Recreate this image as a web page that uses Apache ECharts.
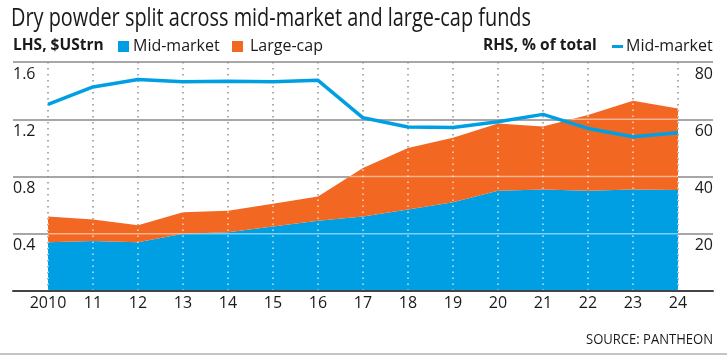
<!DOCTYPE html>
<html>
<head>
<meta charset="utf-8">
<script src="https://cdn.jsdelivr.net/npm/echarts@6/dist/echarts.min.js"></script>
<style>
html,body{margin:0;padding:0;background:#fff;}
#chart{width:727px;height:356px;}
</style>
</head>
<body>
<div id="chart"></div>
<script>
// ---- data ----
const years = ['2010','11','12','13','14','15','16','17','18','19','20','21','22','23','24'];
const midMarket = [0.34,0.35,0.34,0.40,0.41,0.45,0.49,0.52,0.57,0.62,0.70,0.71,0.70,0.71,0.705];
const largeCap  = [0.18,0.15,0.12,0.15,0.15,0.16,0.17,0.34,0.43,0.45,0.47,0.44,0.53,0.62,0.57];
const midShare  = [65.2,71.3,73.9,73.1,73.3,73.1,73.6,60.5,57.3,57.1,59.1,61.7,56.8,53.9,55.3];
const leftMax = 1.6, leftInterval = 0.4;
const rightMax = 80, rightInterval = 20;

const TITLE = 'Dry powder split across mid-market and large-cap funds';
const SOURCE = 'SOURCE: PANTHEON';

const BLUE = '#009fe3', ORANGE = '#f26722', TEXT = '#1a1a1a';
const FONT = "'Open Sans', 'Liberation Sans', sans-serif";

// horizontal condensing factor so that text occupies the reference width
const mctx = document.createElement('canvas').getContext('2d');
function fitScale(text, size, weight, target) {
  mctx.font = weight + ' ' + size + 'px ' + FONT;
  return target / mctx.measureText(text).width;
}
const titleSize = 26, sourceSize = 15;
const titleScale = fitScale(TITLE, titleSize, 'normal', 520);
const sourceScale = fitScale(SOURCE, sourceSize, 'normal', 127);

const chart = echarts.init(document.getElementById('chart'), null, {renderer:'canvas'});

const plotTop = 62, plotBottom = 65;

const option = {
  animation: false,
  backgroundColor: '#fff',
  graphic: [
    {type:'text', x:11, y:19, scaleX:titleScale, style:{text:TITLE, fontFamily:FONT, fontSize:titleSize, fill:TEXT, verticalAlign:'middle'}},
    {type:'text', x:13, y:46, style:{text:'LHS, $UStrn', fontFamily:FONT, fontSize:15.5, fontWeight:'bold', fill:TEXT, verticalAlign:'middle'}},
    {type:'rect', shape:{x:118, y:41, width:11, height:11}, style:{fill:BLUE}},
    {type:'text', x:133, y:46, style:{text:'Mid-market', fontFamily:FONT, fontSize:16, fill:TEXT, verticalAlign:'middle'}},
    {type:'rect', shape:{x:232, y:41, width:11, height:11}, style:{fill:ORANGE}},
    {type:'text', x:250, y:46, style:{text:'Large-cap', fontFamily:FONT, fontSize:16, fill:TEXT, verticalAlign:'middle'}},
    {type:'text', x:483, y:46, style:{text:'RHS, % of total', fontFamily:FONT, fontSize:15.5, fontWeight:'bold', fill:TEXT, verticalAlign:'middle'}},
    {type:'rect', shape:{x:612, y:45, width:11, height:3}, style:{fill:BLUE}},
    {type:'text', x:626, y:46, style:{text:'Mid-market', fontFamily:FONT, fontSize:16, fill:TEXT, verticalAlign:'middle'}},
    {type:'text', x:713, y:340, scaleX:sourceScale, style:{text:SOURCE, fontFamily:FONT, fontSize:sourceSize, fill:TEXT, align:'right', verticalAlign:'middle'}},
    {type:'rect', shape:{x:0, y:353, width:727, height:2}, style:{fill:'#c4c4c4'}}
  ],
  grid: [
    {left:48, right:49, top:plotTop, bottom:plotBottom},
    {left:13, right:14, top:plotTop, bottom:plotBottom}
  ],
  xAxis: [
    {
      type:'category', gridIndex:0, data:years, boundaryGap:false,
      axisLine:{show:false}, axisTick:{show:false},
      axisLabel:{interval:0, margin:4, fontFamily:FONT, fontSize:16, color:TEXT},
      splitLine:{show:true, interval:0, lineStyle:{color:'#8f8f8f', width:1.5, type:[1.5,4.5]}}
    },
    {
      type:'value', gridIndex:1, min:0, max:1, z:10,
      axisLine:{show:true, onZero:false, lineStyle:{color:'#444', width:2}},
      axisTick:{show:false}, axisLabel:{show:false}, splitLine:{show:false}
    }
  ],
  yAxis: [
    {type:'value', gridIndex:0, min:0, max:leftMax, show:false},
    {type:'value', gridIndex:0, min:0, max:rightMax, show:false},
    {
      type:'value', gridIndex:1, min:0, max:leftMax, interval:leftInterval, position:'left',
      axisLine:{show:false}, axisTick:{show:false},
      axisLabel:{inside:true, margin:0, align:'left', verticalAlign:'top', lineHeight:24,
        fontFamily:FONT, fontSize:16, color:TEXT,
        formatter: v => v === 0 ? '' : v.toFixed(1)},
      splitLine:{show:true, lineStyle:{color:'#8a8a8a', width:1.5}}
    },
    {
      type:'value', gridIndex:1, min:0, max:rightMax, interval:rightInterval, position:'right',
      axisLine:{show:false}, axisTick:{show:false},
      axisLabel:{inside:true, margin:0, align:'right', verticalAlign:'top', lineHeight:24,
        fontFamily:FONT, fontSize:16, color:TEXT,
        formatter: v => v === 0 ? '' : String(v)},
      splitLine:{show:false}
    }
  ],
  series: [
    {
      name:'Mid-market', type:'line', xAxisIndex:0, yAxisIndex:0, stack:'dp',
      data: midMarket, symbol:'none', lineStyle:{width:0}, areaStyle:{color:BLUE, opacity:1}, z:2
    },
    {
      name:'Large-cap', type:'line', xAxisIndex:0, yAxisIndex:0, stack:'dp',
      data: largeCap, symbol:'none', lineStyle:{width:0}, areaStyle:{color:ORANGE, opacity:1}, z:2
    },
    {
      type:'custom', xAxisIndex:0, yAxisIndex:0, data:[[0,0]], z:3, silent:true,
      renderItem: function(params, api) {
        if (params.dataIndex !== 0) return null;
        const n = years.length;
        const poly = [];
        for (let i = 0; i < n; i++) poly.push(api.coord([i, midMarket[i] + largeCap[i]]));
        poly.push(api.coord([n-1, 0]));
        poly.push(api.coord([0, 0]));
        const children = [];
        for (let v = leftInterval; v <= leftMax + 1e-9; v += leftInterval) {
          const a = api.coord([0, v]), b = api.coord([n-1, v]);
          children.push({type:'line', shape:{x1:a[0], y1:a[1], x2:b[0], y2:b[1]},
            style:{stroke:'rgba(255,255,255,0.5)', lineWidth:1.5}});
        }
        for (let i = 0; i < n; i++) {
          const a = api.coord([i, 0]), b = api.coord([i, leftMax]);
          children.push({type:'line', shape:{x1:a[0], y1:a[1], x2:b[0], y2:b[1]},
            style:{stroke:'rgba(255,255,255,0.75)', lineWidth:1.5, lineDash:[1.5,4.5]}});
        }
        return {type:'group', clipPath:{type:'polygon', shape:{points:poly}}, children: children};
      }
    },
    {
      name:'Mid-market share', type:'line', xAxisIndex:0, yAxisIndex:1,
      data: midShare, symbol:'none', lineStyle:{color:BLUE, width:3.5}, z:5
    }
  ]
};
chart.setOption(option);
</script>
</body>
</html>
